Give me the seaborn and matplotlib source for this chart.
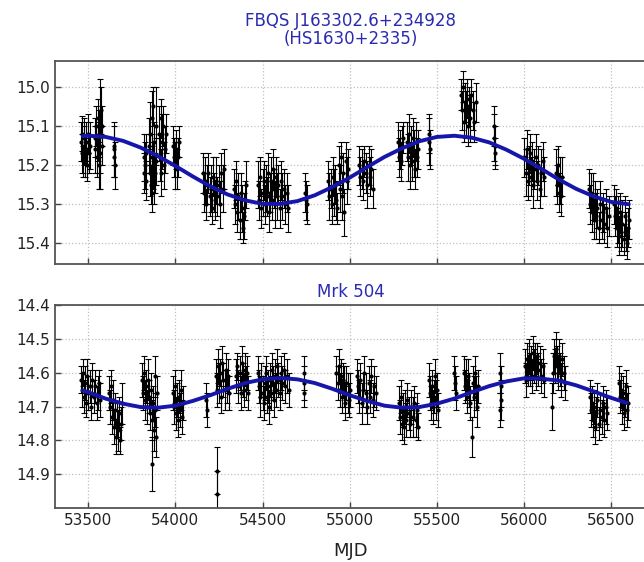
import matplotlib
matplotlib.use("Agg")
import matplotlib.pyplot as plt
from matplotlib.ticker import FormatStrFormatter
import numpy as np
import pandas as pd
import seaborn as sns

# ---------------- data: FBQS J163302.6+234928 (top) ----------------
top_mjd = [
    53458, 53462, 53466, 53470, 53474, 53478, 53482, 53486, 53490, 53495, 53500, 53505, 53510,
    53538, 53542, 53546, 53550, 53554, 53558, 53560, 53562, 53566, 53570, 53574, 53578, 53582,
    53648, 53650, 53651, 53654,
    53818, 53822, 53826, 53830, 53834,
    53848, 53852, 53856, 53860, 53864, 53866, 53868, 53872, 53874, 53876, 53880, 53884, 53888, 53892,
    53905, 53910, 53915, 53920, 53925, 53930, 53935, 53940, 53944,
    53986, 53992, 53998, 54004, 54010, 54016, 54020,
    54160, 54166, 54172, 54178, 54184, 54190, 54196, 54202, 54208, 54214, 54220, 54226, 54232, 54240,
    54248, 54256, 54264, 54272, 54278,
    54338, 54344, 54350, 54356, 54362, 54368, 54374, 54380, 54386, 54392, 54398, 54404,
    54476, 54482, 54488, 54494, 54500, 54506, 54512, 54518, 54524, 54530, 54536, 54542, 54548, 54554,
    54560, 54566, 54572, 54578, 54584, 54590, 54598, 54606, 54614, 54622, 54630, 54640, 54648,
    54746, 54750, 54753,
    54878, 54884, 54890, 54896, 54902, 54908, 54914, 54920, 54926, 54940, 54946, 54952, 54958, 54964,
    54970, 54976, 54982, 54988,
    55052, 55060, 55068, 55076, 55084, 55092, 55100, 55108, 55116, 55124, 55132,
    55274, 55280, 55286, 55292, 55298, 55304,
    55326, 55332, 55338, 55344, 55350, 55356, 55362, 55368, 55374, 55380, 55386, 55392,
    55454, 55457, 55460,
    55636, 55642, 55648, 55654, 55660, 55666, 55672, 55678, 55684, 55690, 55698, 55706, 55714, 55722,
    55826, 55829, 55831, 55834,
    56002, 56008, 56014, 56020, 56026, 56032, 56038, 56044, 56050, 56058, 56066, 56074, 56082, 56090,
    56098, 56106, 56114,
    56184, 56190, 56196, 56202, 56208, 56214, 56218,
    56372, 56378, 56384, 56390, 56396, 56402, 56408, 56414, 56420, 56428, 56436, 56444, 56452, 56460,
    56468, 56476, 56484,
    56516, 56522, 56528, 56534, 56540, 56546, 56552, 56558, 56564, 56570, 56576, 56582, 56588, 56594, 56600,
]
top_mag = [
    15.14, 15.17, 15.12, 15.19, 15.15, 15.13, 15.18, 15.16, 15.14, 15.20, 15.12, 15.17, 15.15,
    15.13, 15.16, 15.10, 15.18, 15.08, 15.14, 15.20, 15.12, 15.17, 15.12, 15.06, 15.15, 15.10,
    15.15, 15.16, 15.18, 15.20,
    15.18, 15.22, 15.20, 15.24, 15.17,
    15.15, 15.22, 15.12, 15.25, 15.18, 15.27, 15.08, 15.20, 15.05, 15.24, 15.14, 15.22, 15.10, 15.19,
    15.12, 15.18, 15.08, 15.22, 15.14, 15.10, 15.20, 15.16, 15.12,
    15.15, 15.18, 15.20, 15.16, 15.21, 15.18, 15.14,
    15.22, 15.27, 15.24, 15.30, 15.25, 15.22, 15.28, 15.26, 15.31, 15.23, 15.27, 15.29, 15.24, 15.28,
    15.25, 15.30, 15.22, 15.26, 15.21,
    15.26, 15.30, 15.24, 15.32, 15.28, 15.34, 15.27, 15.31, 15.36, 15.33, 15.29, 15.25,
    15.25, 15.29, 15.23, 15.31, 15.27, 15.24, 15.30, 15.26, 15.28, 15.22, 15.32, 15.27, 15.24, 15.29,
    15.21, 15.26, 15.30, 15.23, 15.28, 15.25, 15.31, 15.24, 15.28, 15.26, 15.30, 15.27, 15.31,
    15.27, 15.29, 15.30,
    15.24, 15.28, 15.26, 15.30, 15.23, 15.27, 15.25, 15.29, 15.31, 15.20, 15.26, 15.18, 15.28, 15.22,
    15.32, 15.19, 15.24, 15.21,
    15.20, 15.23, 15.21, 15.24, 15.19, 15.22, 15.25, 15.20, 15.23, 15.21, 15.26,
    15.14, 15.18, 15.16, 15.19, 15.15, 15.13,
    15.14, 15.18, 15.12, 15.20, 15.15, 15.19, 15.13, 15.17, 15.21, 15.14, 15.18, 15.16,
    15.12, 15.14, 15.16,
    15.02, 15.06, 15.00, 15.09, 15.04, 15.07, 15.03, 15.10, 15.05, 15.08, 15.02, 15.06, 15.09, 15.04,
    15.10, 15.13, 15.17, 15.15,
    15.18, 15.22, 15.16, 15.24, 15.20, 15.17, 15.23, 15.19, 15.25, 15.21, 15.18, 15.24, 15.20, 15.26,
    15.22, 15.19, 15.23,
    15.22, 15.25, 15.20, 15.27, 15.24, 15.28, 15.23,
    15.26, 15.30, 15.27, 15.32, 15.28, 15.34, 15.29, 15.33, 15.31, 15.36, 15.30, 15.34, 15.32, 15.35,
    15.31, 15.36, 15.33,
    15.30, 15.33, 15.31, 15.36, 15.34, 15.38, 15.32, 15.37, 15.35, 15.39, 15.33, 15.37, 15.40, 15.36, 15.34,
]
top_err = [
    .05, .05, .045, .04, .05, .05, .05, .04, .05, .04, .05, .05, .06,
    .05, .06, .05, .05, .05, .05, .06, .06, .05, .14, .06, .05, .05,
    .05, .07, .05, .06,
    .06, .05, .06, .05, .05,
    .07, .06, .08, .05, .06, .05, .07, .06, .05, .06, .05, .05, .10, .06,
    .07, .06, .05, .06, .07, .05, .06, .06, .05,
    .05, .05, .06, .05, .05, .05, .04,
    .05, .05, .06, .04, .05, .05, .05, .06, .04, .05, .05, .05, .06, .05,
    .05, .06, .05, .06, .05,
    .05, .05, .05, .05, .06, .05, .05, .06, .04, .06, .05, .06,
    .06, .05, .05, .05, .06, .05, .05, .06, .05, .05, .05, .05, .06, .05,
    .05, .05, .06, .05, .06, .05, .05, .05, .06, .05, .05, .05, .06,
    .05, .05, .05,
    .05, .06, .05, .05, .05, .06, .05, .05, .04, .05, .06, .04, .06, .05,
    .06, .05, .06, .05,
    .05, .05, .05, .05, .04, .05, .06, .05, .05, .05, .05,
    .05, .05, .05, .05, .05, .04,
    .05, .06, .05, .06, .05, .05, .05, .06, .05, .05, .05, .05,
    .05, .06, .05,
    .04, .05, .04, .05, .05, .06, .05, .05, .05, .06, .04, .05, .05, .05,
    .05, .06, .04, .05,
    .05, .06, .05, .05, .05, .05, .05, .05, .06, .05, .06, .05, .05, .05,
    .06, .05, .05,
    .06, .05, .05, .05, .06, .05, .05,
    .05, .05, .05, .05, .06, .05, .05, .06, .05, .04, .06, .05, .05, .05,
    .05, .05, .05,
    .05, .05, .05, .05, .06, .05, .05, .05, .06, .04, .05, .05, .04, .05, .05,
]
# fitted sinusoid
top_fit_mjd = [53470, 53500, 53600, 53700, 53800, 53900, 54000, 54100, 54200, 54300, 54400,
               54500, 54600, 54700, 54800, 54900, 55000, 55100, 55200, 55300, 55400, 55500,
               55600, 55700, 55800, 55900, 56000, 56100, 56200, 56300, 56400, 56500, 56600]
top_fit_mag = [15.126, 15.125, 15.128, 15.138, 15.155, 15.177, 15.202, 15.229, 15.254, 15.275,
               15.290, 15.299, 15.299, 15.292, 15.277, 15.256, 15.232, 15.205, 15.179, 15.157,
               15.139, 15.128, 15.125, 15.130, 15.142, 15.161, 15.184, 15.210, 15.237, 15.261,
               15.280, 15.294, 15.300]

# ---------------- data: Mrk 504 (bottom) ----------------
bot_mjd = [
    53458, 53464, 53470, 53476, 53482, 53488, 53494, 53500, 53508, 53516, 53524, 53532, 53540, 53548,
    53556, 53564, 53570,
    53618, 53624, 53630, 53636, 53642, 53648, 53654, 53660, 53666, 53672, 53678, 53684, 53690, 53696,
    53808, 53814, 53820, 53826, 53832, 53838, 53844, 53850, 53856, 53862, 53864, 53868, 53874, 53880,
    53884, 53886, 53890, 53896,
    53986, 53992, 53998, 54004, 54010, 54016, 54022, 54028, 54034, 54040, 54046,
    54178, 54182,
    54238, 54238,
    54234, 54240, 54246, 54252, 54258, 54264, 54270, 54276, 54282, 54288, 54294, 54300, 54306,
    54350, 54356, 54362, 54368, 54374, 54380, 54386, 54392, 54398, 54404, 54410, 54416,
    54476, 54482, 54488, 54494, 54500, 54506, 54512, 54518, 54524, 54530, 54536, 54542, 54548, 54554,
    54560, 54566, 54572, 54578, 54584, 54590, 54598, 54606, 54614, 54622, 54630, 54640, 54650,
    54736, 54738, 54740,
    54924, 54930, 54936, 54942, 54948, 54954, 54960, 54966, 54972, 54980, 54988, 54996, 55004,
    55040, 55046, 55052, 55060, 55068, 55076, 55084, 55092, 55100, 55108, 55116, 55124, 55132, 55140, 55148,
    55280, 55286, 55292, 55298, 55304, 55310, 55316, 55322, 55330, 55338, 55346, 55354, 55362, 55370,
    55378, 55386, 55392,
    55452, 55458, 55464, 55470, 55476, 55482, 55488, 55494, 55500, 55506,
    55598, 55604, 55610,
    55656, 55662, 55668, 55674, 55680, 55686, 55692, 55700, 55706, 55712, 55718, 55724, 55730, 55736,
    55862, 55864, 55866, 55868,
    56004, 56010, 56016, 56022, 56028, 56034, 56040, 56046, 56052, 56058, 56064, 56070, 56076, 56082,
    56090, 56098, 56106, 56112,
    56158, 56166, 56172, 56178, 56184, 56190, 56196, 56202, 56208, 56214, 56220, 56226, 56232,
    56378, 56384, 56390, 56396, 56402, 56408, 56414, 56420, 56428, 56436, 56444, 56452, 56460, 56468, 56474,
    56544, 56550, 56556, 56562, 56568, 56574, 56580, 56586, 56592, 56598,
]
bot_mag = [
    14.62, 14.65, 14.60, 14.67, 14.63, 14.69, 14.61, 14.66, 14.64, 14.70, 14.62, 14.67, 14.64, 14.69,
    14.66, 14.63, 14.68,
    14.66, 14.70, 14.64, 14.73, 14.68, 14.76, 14.71, 14.79, 14.74, 14.77, 14.72, 14.80, 14.75, 14.69,
    14.62, 14.66, 14.60, 14.68, 14.64, 14.70, 14.62, 14.67, 14.72, 14.65, 14.87, 14.74, 14.69, 14.77,
    14.61, 14.71, 14.79, 14.66,
    14.66, 14.70, 14.64, 14.72, 14.68, 14.74, 14.67, 14.71, 14.65, 14.73, 14.69,
    14.68, 14.71,
    14.89, 14.96,
    14.61, 14.65, 14.58, 14.63, 14.60, 14.67, 14.57, 14.62, 14.65, 14.59, 14.64, 14.61, 14.66,
    14.61, 14.58, 14.64, 14.60, 14.66, 14.57, 14.62, 14.65, 14.59, 14.63, 14.60, 14.66,
    14.60, 14.64, 14.67, 14.62, 14.66, 14.69, 14.63, 14.60, 14.67, 14.64, 14.70, 14.62, 14.66, 14.59,
    14.63, 14.68, 14.61, 14.65, 14.58, 14.62, 14.66, 14.60, 14.63, 14.59, 14.64, 14.61, 14.65,
    14.60, 14.66, 14.63,
    14.60, 14.63, 14.58, 14.65, 14.61, 14.67, 14.62, 14.64, 14.69, 14.63, 14.66, 14.68, 14.65,
    14.61, 14.64, 14.67, 14.62, 14.69, 14.65, 14.60, 14.66, 14.70, 14.63, 14.67, 14.61, 14.68, 14.64, 14.66,
    14.69, 14.73, 14.67, 14.75, 14.71, 14.76, 14.70, 14.74, 14.68, 14.72, 14.75, 14.70, 14.73, 14.69,
    14.74, 14.71, 14.76,
    14.62, 14.66, 14.69, 14.64, 14.70, 14.67, 14.61, 14.68, 14.65, 14.71,
    14.60, 14.63, 14.66,
    14.60, 14.64, 14.62, 14.67, 14.61, 14.65, 14.69, 14.79, 14.63, 14.67, 14.60, 14.66, 14.70, 14.64,
    14.60, 14.71, 14.64, 14.68,
    14.58, 14.62, 14.56, 14.60, 14.55, 14.59, 14.57, 14.61, 14.54, 14.58, 14.56, 14.60, 14.55, 14.59,
    14.57, 14.61, 14.58, 14.62,
    14.70, 14.60, 14.55, 14.58, 14.53, 14.57, 14.60, 14.55, 14.59, 14.62, 14.56, 14.60, 14.63,
    14.67, 14.71, 14.69, 14.74, 14.70, 14.76, 14.72, 14.68, 14.75, 14.71, 14.73, 14.69, 14.74, 14.70, 14.72,
    14.63, 14.67, 14.65, 14.70, 14.66, 14.72, 14.68, 14.64, 14.71, 14.69,
]
bot_err = [
    .04, .05, .04, .05, .05, .04, .05, .05, .05, .04, .05, .05, .05, .05,
    .05, .04, .05,
    .05, .05, .05, .05, .06, .05, .05, .05, .05, .06, .05, .04, .05, .06,
    .05, .05, .05, .06, .05, .05, .06, .05, .05, .05, .08, .06, .05, .06,
    .06, .05, .06, .05,
    .05, .05, .05, .05, .05, .05, .05, .05, .06, .05, .05,
    .05, .05,
    .07, .07,
    .05, .05, .05, .06, .04, .05, .05, .05, .06, .05, .05, .05, .05,
    .05, .04, .05, .05, .05, .05, .05, .05, .05, .05, .05, .05,
    .05, .05, .06, .05, .05, .05, .05, .05, .05, .05, .05, .05, .05, .05,
    .05, .05, .05, .05, .05, .05, .05, .05, .05, .05, .05, .05, .05,
    .05, .04, .05,
    .05, .05, .05, .05, .05, .05, .05, .06, .05, .05, .06, .05, .05,
    .05, .05, .05, .05, .06, .05, .05, .06, .05, .05, .05, .05, .05, .06, .05,
    .05, .05, .05, .05, .05, .05, .05, .05, .05, .05, .04, .05, .06, .05,
    .05, .05, .04,
    .05, .05, .05, .05, .05, .05, .05, .06, .05, .05,
    .05, .05, .05,
    .05, .05, .06, .05, .05, .05, .05, .06, .05, .06, .05, .05, .06, .05,
    .06, .05, .06, .06,
    .05, .05, .05, .04, .05, .05, .05, .05, .05, .05, .05, .05, .04, .05,
    .05, .05, .05, .05,
    .07, .06, .05, .05, .05, .05, .05, .05, .05, .05, .05, .05, .05,
    .05, .05, .05, .05, .05, .05, .05, .05, .05, .05, .05, .05, .05, .05, .05,
    .05, .05, .05, .05, .05, .05, .05, .05, .05, .05,
]
bot_fit_mjd = [53470, 53500, 53600, 53700, 53800, 53900, 54000, 54100, 54200, 54300, 54400,
               54500, 54600, 54700, 54800, 54900, 55000, 55100, 55200, 55300, 55400, 55500,
               55600, 55700, 55800, 55900, 56000, 56100, 56200, 56300, 56400, 56500, 56590]
bot_fit_mag = [14.652, 14.657, 14.676, 14.691, 14.701, 14.703, 14.697, 14.683, 14.666, 14.647,
               14.630, 14.619, 14.615, 14.619, 14.630, 14.647, 14.666, 14.683, 14.697, 14.703,
               14.701, 14.691, 14.676, 14.657, 14.639, 14.625, 14.616, 14.617, 14.623, 14.637,
               14.655, 14.674, 14.689]

titles = ["FBQS J163302.6+234928\n(HS1630+2335)", "Mrk 504"]
x_ticks = [53500, 54000, 54500, 55000, 55500, 56000, 56500]
top_yticks = [15.0, 15.1, 15.2, 15.3, 15.4]
bot_yticks = [14.4, 14.5, 14.6, 14.7, 14.8, 14.9]

# ---------------- drawing ----------------
sns.set_style("ticks")
plt.rcParams["font.family"] = ["DejaVu Sans"]

fig = plt.figure(figsize=(6.44, 5.62), dpi=100)
ax1 = fig.add_axes([0.0854, 0.530, 0.918, 0.3615])
ax2 = fig.add_axes([0.0854, 0.0961, 0.918, 0.3617])

fit_color = "#1616aa"
title_color = "#2b2bb0"

panels = [
    (ax1, top_mjd, top_mag, top_err, top_fit_mjd, top_fit_mag, (15.453, 14.934), top_yticks),
    (ax2, bot_mjd, bot_mag, bot_err, bot_fit_mjd, bot_fit_mag, (15.0, 14.398), bot_yticks),
]
for ax, mjd, mag, err, fmjd, fmag, ylim, yt in panels:
    assert len(mjd) == len(mag) == len(err)
    df = pd.DataFrame({"MJD": mjd, "mag": mag, "err": err})
    ax.errorbar(df["MJD"], df["mag"], yerr=df["err"], fmt="o", ms=2.0, color="black",
                ecolor="black", elinewidth=0.8, capsize=2.5, capthick=0.8, zorder=2)
    fit = pd.DataFrame({"MJD": fmjd, "mag": fmag})
    sns.lineplot(data=fit, x="MJD", y="mag", ax=ax, color=fit_color, lw=2.8, zorder=3)
    ax.set_xlim(53310, 56700)
    ax.set_ylim(*ylim)
    ax.set_xticks(x_ticks)
    ax.set_yticks(yt)
    ax.yaxis.set_major_formatter(FormatStrFormatter("%.1f"))
    ax.grid(True, ls=":", color="#c0c0c0", lw=0.9)
    ax.set_axisbelow(True)
    ax.tick_params(direction="in", length=4, width=1, labelsize=11, colors="#444",
                   labelcolor="#222", top=False, right=False)
    for s in ax.spines.values():
        s.set_color("#555")
        s.set_linewidth(1.3)
    ax.set_xlabel("")
    ax.set_ylabel("")

ax1.tick_params(labelbottom=False)
ax1.set_title(titles[0], color=title_color, fontsize=12, pad=12, linespacing=1.05)
ax2.set_title(titles[1], color=title_color, fontsize=12, pad=5.5)
ax2.set_xlabel("MJD", fontsize=13, color="#222", labelpad=10)

fig.savefig("out.png", dpi=100)
